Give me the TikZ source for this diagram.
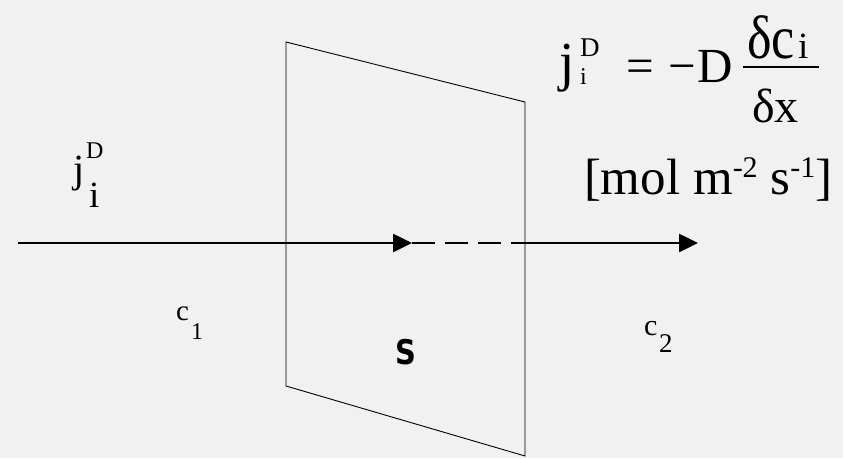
\documentclass[tikz,border=0pt]{standalone}
\usepackage{fontspec}
\setmainfont{Liberation Serif}
\newfontfamily\blockfont{DejaVu Sans}
\usetikzlibrary{arrows.meta}
\newcommand\fsz[1]{\fontsize{#1}{#1}\selectfont}
\definecolor{bg}{HTML}{F1F1F1}
\begin{document}
\begin{tikzpicture}[x=1pt,y=-1pt,
  lbl/.style={anchor=base west,inner sep=0pt,outer sep=0pt,text=black},
  flow/.style={line width=2.6pt,draw=black},
  tipped/.style={-{Triangle[length=19pt,width=18pt]}},
  plane/.style={draw=black,line width=0.9pt,line join=miter}]
\useasboundingbox (0,0) rectangle (843,458);
\fill[bg] (0,0) rectangle (843,458);
% membrane plane
\draw[plane] (286,42) -- (525,102) -- (525,456) -- (286,386) -- cycle;
% flux arrow
\coordinate (a0) at (18,243);
\coordinate (a1) at (412,243);
\coordinate (a2) at (511,243);
\coordinate (a3) at (698,243);
\draw[flow,tipped] (a0) -- (a1);
\draw[flow,dash pattern=on 23pt off 10pt] (a1) -- (a2);
\draw[flow,tipped] (a2) -- (a3);
% left label j_i^D
\node[lbl,font=\fsz{40}] (lj) at (73,182) {j};
\node[lbl,font=\fsz{24}] (lD) at (86,158) {D};
\node[lbl,font=\fsz{37}] (li) at (89,207) {i};
% c1, c2
\node[lbl,font=\fsz{29}] (c1) at (176,320) {c};
\node[lbl,font=\fsz{24}] (n1) at (191,339) {1};
\node[lbl,font=\fsz{30}] (c2) at (644,335) {c};
\node[lbl,font=\fsz{27}] (n2) at (659,352) {2};
% S
\node[inner sep=0pt,font=\blockfont\fsz{34}\bfseries,xscale=0.85] (S) at (406,352) {S};
% equation
\node[lbl,font=\fsz{55}] (ej) at (559,80) {j};
\node[lbl,font=\fsz{27}] (eD) at (580,56) {D};
\node[lbl,font=\fsz{24}] (ei) at (580,84) {i};
\node[lbl,font=\fsz{49}] (eq) at (626,82) {=};
\node[lbl,font=\fsz{49}] (mn) at (668,82) {−};
\node[lbl,font=\fsz{49}] (eDD) at (697,82) {D};
\node[lbl,font=\fsz{52}] (numd) at (747,58) {\scalebox{1}[1.18]{δc}};
\node[lbl,font=\fsz{37}] (nsub) at (798,58) {i};
\node[lbl,font=\fsz{48}] (den) at (752,122) {δx};
\coordinate (b0) at (743,67);
\coordinate (b1) at (819,67);
\draw[line width=2.6pt] (b0) -- (b1);
% units
\node[lbl,font=\fsz{51}] (units) at (584,194) {[mol m\raisebox{0.32em}{\fsz{30}-2} s\raisebox{0.32em}{\fsz{30}-1}]};
\end{tikzpicture}
\end{document}
